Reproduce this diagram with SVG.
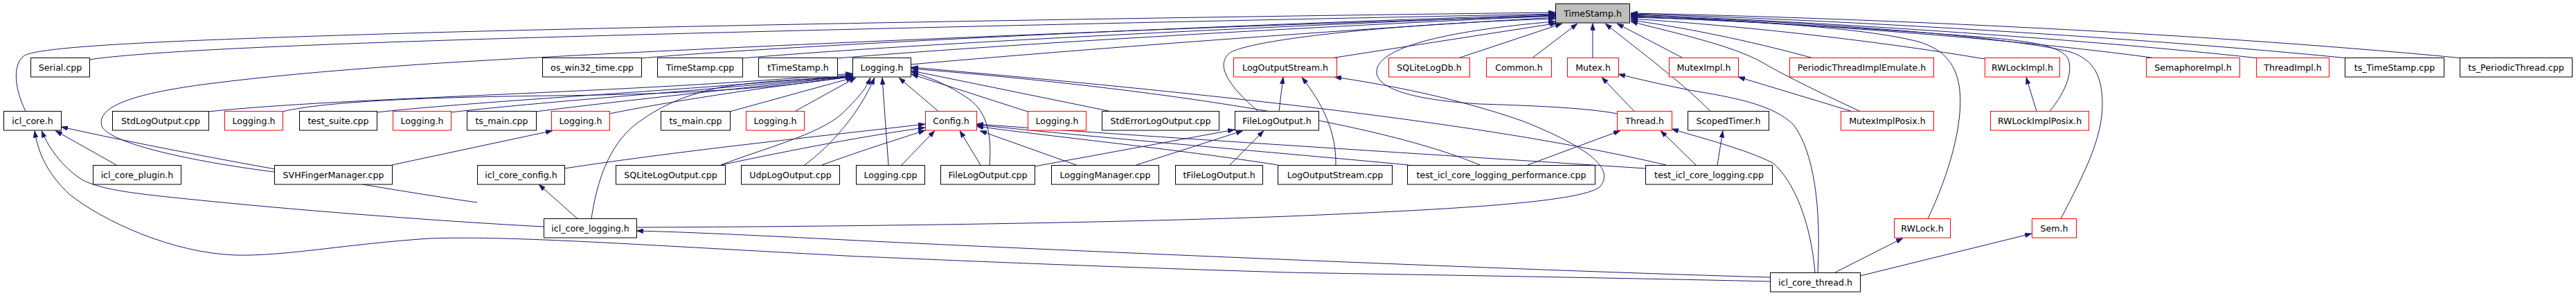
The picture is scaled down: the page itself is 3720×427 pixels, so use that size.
<svg xmlns="http://www.w3.org/2000/svg" width="3720" height="427" viewBox="0 0 3720 427">
<style>
.n rect{fill:#fff;stroke:#000;stroke-width:1}
.r rect{fill:#fff;stroke:#f00;stroke-width:1}
.g rect{fill:#bfbfbf;stroke:#000;stroke-width:1}
text{font-family:"DejaVu Sans","Liberation Sans",sans-serif;font-size:12.6px;text-anchor:middle;fill:#000}
#edges path{fill:none;stroke:#191970;stroke-width:1;marker-end:url(#ah)}
</style>
<defs>
<marker id="ah" viewBox="0 0 10 7" refX="10" refY="3.5" markerWidth="10" markerHeight="7" markerUnits="userSpaceOnUse" orient="auto">
<path d="M0,0 L10,3.5 L0,7 z" fill="#191970" stroke="#191970" stroke-width="0.5"/>
</marker>
</defs>
<rect width="3720" height="427" fill="#fff"/>
<g id="edges">
<path d="M37,160.5 C22,130 17,95 34,81 C55,66 250,58 620,47 C1100,34 1900,22 2246,18"/>
<path d="M129,86 C250,68 700,55 1240,42 C1700,31 2050,24 2246,20"/>
<path d="M926,84 C1100,68 1700,38 2246,21"/>
<path d="M1072,84 C1300,64 1850,37 2246,22"/>
<path d="M1209,84 C1450,64 1900,38 2246,23"/>
<path d="M1315,93 C1550,72 1950,42 2246,25"/>
<path d="M396,248 C300,236 160,210 147,182 C138,152 200,134 300,121 C420,106 520,99 620,92 C1000,68 1800,36 2246,23"/>
<path d="M1817,160.5 C1775,125 1755,95 1775,77 C1800,58 2000,35 2246,27"/>
<path d="M2335,164 C2290,155 2200,152 2137,150 C2050,145 1990,130 1988,105 C1986,70 2080,45 2246,31"/>
<path d="M1925,83.5 L2248,33.5"/>
<path d="M2107,83.5 L2256,34"/>
<path d="M2213,83.5 L2278,34"/>
<path d="M2300,83.5 L2300,33.5"/>
<path d="M2470,160.5 C2430,120 2370,75 2318,34"/>
<path d="M2430,83.5 L2335,34"/>
<path d="M2686,160.5 C2620,130 2570,105 2545,90 C2500,65 2420,48 2355,31"/>
<path d="M2617,83.5 C2550,65 2450,42 2355,29"/>
<path d="M2866,85 C2700,57 2500,36 2355,27"/>
<path d="M2784,315.5 C2815,250 2835,180 2830,130 C2826,95 2810,72 2770,60 C2700,42 2550,30 2355,25"/>
<path d="M2960,160.5 C2985,130 2995,100 2985,82 C2970,65 2930,60 2880,55 C2700,40 2500,30 2355,24"/>
<path d="M2976,315.5 C3010,250 3036,200 3036,150 C3036,105 3020,85 2990,75 C2900,52 2600,30 2355,23"/>
<path d="M3110,83.5 C2900,55 2600,34 2355,22"/>
<path d="M3262,84 C3000,55 2600,30 2355,21"/>
<path d="M3386,83.5 C3100,55 2650,28 2355,20"/>
<path d="M3552,83.5 C3150,45 2650,25 2355,19"/>
<path d="M408,161 C470,146 620,140 800,138 C1000,136 1150,125 1231,109"/>
<path d="M301,161 C500,140 900,135 1231,106"/>
<path d="M544,162 C700,145 1000,130 1231,108"/>
<path d="M651,162 C800,145 1050,128 1231,109"/>
<path d="M774,161 C900,145 1100,124 1231,110"/>
<path d="M880,164 C1000,140 1150,120 1232,111"/>
<path d="M1054,161 L1232,112"/>
<path d="M1148,160.5 L1236,112"/>
<path d="M566,238 L798,188.5"/>
<path d="M854,315.5 C862,260 880,210 917,180 C950,155 985,138 1040,126 C1100,116 1170,114 1233,111"/>
<path d="M1041,238 C1100,215 1180,195 1215,165 C1238,142 1250,130 1257,112"/>
<path d="M1162,238 C1200,210 1240,165 1263,112"/>
<path d="M1283,238 L1274,112"/>
<path d="M1355,160.5 L1298,112"/>
<path d="M1429,238 C1432,200 1428,162 1398,142 C1370,123 1345,112 1316,104"/>
<path d="M1484,161 L1316,107"/>
<path d="M1603,160.5 L1316,102"/>
<path d="M2137,238 C2000,180 1700,130 1316,99"/>
<path d="M2406,238 C2200,190 1900,148 1316,97"/>
<path d="M815,243 C1000,215 1200,195 1336,179"/>
<path d="M1041,238 C1150,215 1250,196 1336,184"/>
<path d="M1187,238 C1250,215 1300,200 1336,188"/>
<path d="M1302,238 L1350,188.5"/>
<path d="M1416,238 L1386,188.5"/>
<path d="M1554,238 L1415,188.5"/>
<path d="M1845,238 C1700,215 1500,195 1410,182"/>
<path d="M2034,238 C1900,225 1600,200 1410,180"/>
<path d="M2376,243 C2100,225 1700,200 1410,179"/>
<path d="M689,292 C600,280 300,230 88,183"/>
<path d="M168,238 L80,188.5"/>
<path d="M785,327 C650,320 450,305 300,290 C200,280 150,275 120,260 C95,245 72,218 60,188.5"/>
<path d="M2556,406 C2300,400 1900,394 1860,393 C1500,382 1300,372 1240,370 C900,352 740,340 620,344 C500,352 410,370 340,368 C250,365 150,320 100,280 C70,252 55,222 50,188.5"/>
<path d="M2556,400 C2200,390 1500,360 1240,347 C1100,340 1000,335 919,333"/>
<path d="M834,315.5 L778,266"/>
<path d="M919,328 C1200,327 1600,322 1860,312 C2100,302 2280,292 2310,270 C2332,245 2300,215 2200,175 C2100,140 2000,122 1927,111"/>
<path d="M1847,160.5 L1853,111"/>
<path d="M1929,238 C1930,190 1910,150 1880,111.5"/>
<path d="M1494,240 L1783,187"/>
<path d="M1641,238 L1795,188.5"/>
<path d="M1776,238 L1825,188.5"/>
<path d="M2206,238 L2340,188.5"/>
<path d="M2449,238 L2398,188.5"/>
<path d="M2621,393 C2615,320 2590,260 2560,235 C2520,215 2460,200 2414,186"/>
<path d="M2360,160.5 L2313,111.5"/>
<path d="M2625,393 C2630,300 2620,220 2590,180 C2560,150 2500,140 2440,130 C2400,122 2370,115 2337,107"/>
<path d="M2480,238 L2488,188.5"/>
<path d="M2674,160.5 L2510,111"/>
<path d="M2941,160.5 L2926,111.5"/>
<path d="M2650,393 L2748,343.5"/>
<path d="M2686,398 L2934,337"/>
</g>
<g id="n_TimeStamp_h" class="g"><rect x="2246.5" y="5.5" width="107" height="27.5"/><text x="2300" y="24">TimeStamp.h</text></g>
<g id="n_Serial_cpp" class="n"><rect x="44.5" y="83.5" width="85" height="27.5"/><text x="87" y="101.5">Serial.cpp</text></g>
<g id="n_os_win32_time_cpp" class="n"><rect x="783.5" y="83.5" width="143" height="27.5"/><text x="855" y="101.5">os_win32_time.cpp</text></g>
<g id="n_TimeStamp_cpp" class="n"><rect x="949.5" y="83.5" width="123" height="27.5"/><text x="1011" y="101.5">TimeStamp.cpp</text></g>
<g id="n_tTimeStamp_h" class="n"><rect x="1095.5" y="83.5" width="114" height="27.5"/><text x="1152.5" y="101.5">tTimeStamp.h</text></g>
<g id="n_Logging_h" class="n"><rect x="1231.5" y="83.5" width="84" height="27.5"/><text x="1273.5" y="101.5">Logging.h</text></g>
<g id="n_LogOutputStream_h" class="r"><rect x="1781.5" y="83.5" width="149" height="27.5"/><text x="1856" y="101.5">LogOutputStream.h</text></g>
<g id="n_SQLiteLogDb_h" class="r"><rect x="2005.5" y="83.5" width="117" height="27.5"/><text x="2064" y="101.5">SQLiteLogDb.h</text></g>
<g id="n_Common_h" class="r"><rect x="2146.5" y="83.5" width="94" height="27.5"/><text x="2193.5" y="101.5">Common.h</text></g>
<g id="n_Mutex_h" class="r"><rect x="2263.5" y="83.5" width="74" height="27.5"/><text x="2300.5" y="101.5">Mutex.h</text></g>
<g id="n_MutexImpl_h" class="r"><rect x="2410.5" y="83.5" width="100" height="27.5"/><text x="2460.5" y="101.5">MutexImpl.h</text></g>
<g id="n_PeriodicThreadImplEmulate_h" class="r"><rect x="2584.5" y="83.5" width="208" height="27.5"/><text x="2688.5" y="101.5">PeriodicThreadImplEmulate.h</text></g>
<g id="n_RWLockImpl_h" class="r"><rect x="2866.5" y="83.5" width="108" height="27.5"/><text x="2920.5" y="101.5">RWLockImpl.h</text></g>
<g id="n_SemaphoreImpl_h" class="r"><rect x="3099.5" y="83.5" width="135" height="27.5"/><text x="3167" y="101.5">SemaphoreImpl.h</text></g>
<g id="n_ThreadImpl_h" class="r"><rect x="3258.5" y="83.5" width="105" height="27.5"/><text x="3311" y="101.5">ThreadImpl.h</text></g>
<g id="n_ts_TimeStamp_cpp" class="n"><rect x="3386.5" y="83.5" width="143" height="27.5"/><text x="3458" y="101.5">ts_TimeStamp.cpp</text></g>
<g id="n_ts_PeriodicThread_cpp" class="n"><rect x="3552.5" y="83.5" width="162" height="27.5"/><text x="3633.5" y="101.5">ts_PeriodicThread.cpp</text></g>
<g id="n_icl_core_h" class="n"><rect x="5.5" y="160.5" width="83" height="27.5"/><text x="47" y="179">icl_core.h</text></g>
<g id="n_StdLogOutput_cpp" class="n"><rect x="162.5" y="160.5" width="139" height="27.5"/><text x="232" y="179">StdLogOutput.cpp</text></g>
<g id="n_Logging_h_2" class="r"><rect x="324.5" y="160.5" width="84" height="27.5"/><text x="366.5" y="179">Logging.h</text></g>
<g id="n_test_suite_cpp" class="n"><rect x="432.5" y="160.5" width="112" height="27.5"/><text x="488.5" y="179">test_suite.cpp</text></g>
<g id="n_Logging_h_3" class="r"><rect x="567.5" y="160.5" width="84" height="27.5"/><text x="609.5" y="179">Logging.h</text></g>
<g id="n_ts_main_cpp" class="n"><rect x="674.5" y="160.5" width="100" height="27.5"/><text x="724.5" y="179">ts_main.cpp</text></g>
<g id="n_Logging_h_4" class="r"><rect x="796.5" y="160.5" width="84" height="27.5"/><text x="838.5" y="179">Logging.h</text></g>
<g id="n_ts_main_cpp_2" class="n"><rect x="954.5" y="160.5" width="100" height="27.5"/><text x="1004.5" y="179">ts_main.cpp</text></g>
<g id="n_Logging_h_5" class="r"><rect x="1077.5" y="160.5" width="84" height="27.5"/><text x="1119.5" y="179">Logging.h</text></g>
<g id="n_Config_h" class="r"><rect x="1336.5" y="160.5" width="74" height="27.5"/><text x="1373.5" y="179">Config.h</text></g>
<g id="n_Logging_h_6" class="r"><rect x="1484.5" y="160.5" width="84" height="27.5"/><text x="1526.5" y="179">Logging.h</text></g>
<g id="n_StdErrorLogOutput_cpp" class="n"><rect x="1591.5" y="160.5" width="169" height="27.5"/><text x="1676" y="179">StdErrorLogOutput.cpp</text></g>
<g id="n_FileLogOutput_h" class="n"><rect x="1783.5" y="160.5" width="121" height="27.5"/><text x="1844" y="179">FileLogOutput.h</text></g>
<g id="n_Thread_h" class="r"><rect x="2335.5" y="160.5" width="79" height="27.5"/><text x="2375" y="179">Thread.h</text></g>
<g id="n_ScopedTimer_h" class="n"><rect x="2437.5" y="160.5" width="117" height="27.5"/><text x="2496" y="179">ScopedTimer.h</text></g>
<g id="n_MutexImplPosix_h" class="r"><rect x="2658.5" y="160.5" width="134" height="27.5"/><text x="2725.5" y="179">MutexImplPosix.h</text></g>
<g id="n_RWLockImplPosix_h" class="r"><rect x="2874.5" y="160.5" width="142" height="27.5"/><text x="2945.5" y="179">RWLockImplPosix.h</text></g>
<g id="n_icl_core_plugin_h" class="n"><rect x="134.5" y="238.5" width="127" height="27.5"/><text x="198" y="256.5">icl_core_plugin.h</text></g>
<g id="n_SVHFingerManager_cpp" class="n"><rect x="396.5" y="238.5" width="170" height="27.5"/><text x="481.5" y="256.5">SVHFingerManager.cpp</text></g>
<g id="n_icl_core_config_h" class="n"><rect x="689.5" y="238.5" width="126" height="27.5"/><text x="752.5" y="256.5">icl_core_config.h</text></g>
<g id="n_SQLiteLogOutput_cpp" class="n"><rect x="889.5" y="238.5" width="158" height="27.5"/><text x="968.5" y="256.5">SQLiteLogOutput.cpp</text></g>
<g id="n_UdpLogOutput_cpp" class="n"><rect x="1070.5" y="238.5" width="142" height="27.5"/><text x="1141.5" y="256.5">UdpLogOutput.cpp</text></g>
<g id="n_Logging_cpp" class="n"><rect x="1236.5" y="238.5" width="99" height="27.5"/><text x="1286" y="256.5">Logging.cpp</text></g>
<g id="n_FileLogOutput_cpp" class="n"><rect x="1358.5" y="238.5" width="136" height="27.5"/><text x="1426.5" y="256.5">FileLogOutput.cpp</text></g>
<g id="n_LoggingManager_cpp" class="n"><rect x="1518.5" y="238.5" width="155" height="27.5"/><text x="1596" y="256.5">LoggingManager.cpp</text></g>
<g id="n_tFileLogOutput_h" class="n"><rect x="1697.5" y="238.5" width="126" height="27.5"/><text x="1760.5" y="256.5">tFileLogOutput.h</text></g>
<g id="n_LogOutputStream_cpp" class="n"><rect x="1845.5" y="238.5" width="165" height="27.5"/><text x="1928" y="256.5">LogOutputStream.cpp</text></g>
<g id="n_test_icl_core_logging_performance_cpp" class="n"><rect x="2032.5" y="238.5" width="271" height="27.5"/><text x="2168" y="256.5">test_icl_core_logging_performance.cpp</text></g>
<g id="n_test_icl_core_logging_cpp" class="n"><rect x="2376.5" y="238.5" width="183" height="27.5"/><text x="2468" y="256.5">test_icl_core_logging.cpp</text></g>
<g id="n_icl_core_logging_h" class="n"><rect x="785.5" y="315.5" width="134" height="27.5"/><text x="852.5" y="334">icl_core_logging.h</text></g>
<g id="n_RWLock_h" class="r"><rect x="2735.5" y="315.5" width="81" height="27.5"/><text x="2776" y="334">RWLock.h</text></g>
<g id="n_Sem_h" class="r"><rect x="2934.5" y="315.5" width="64" height="27.5"/><text x="2966.5" y="334">Sem.h</text></g>
<g id="n_icl_core_thread_h" class="n"><rect x="2556.5" y="393.5" width="130" height="27.5"/><text x="2621.5" y="411.5">icl_core_thread.h</text></g>
</svg>
